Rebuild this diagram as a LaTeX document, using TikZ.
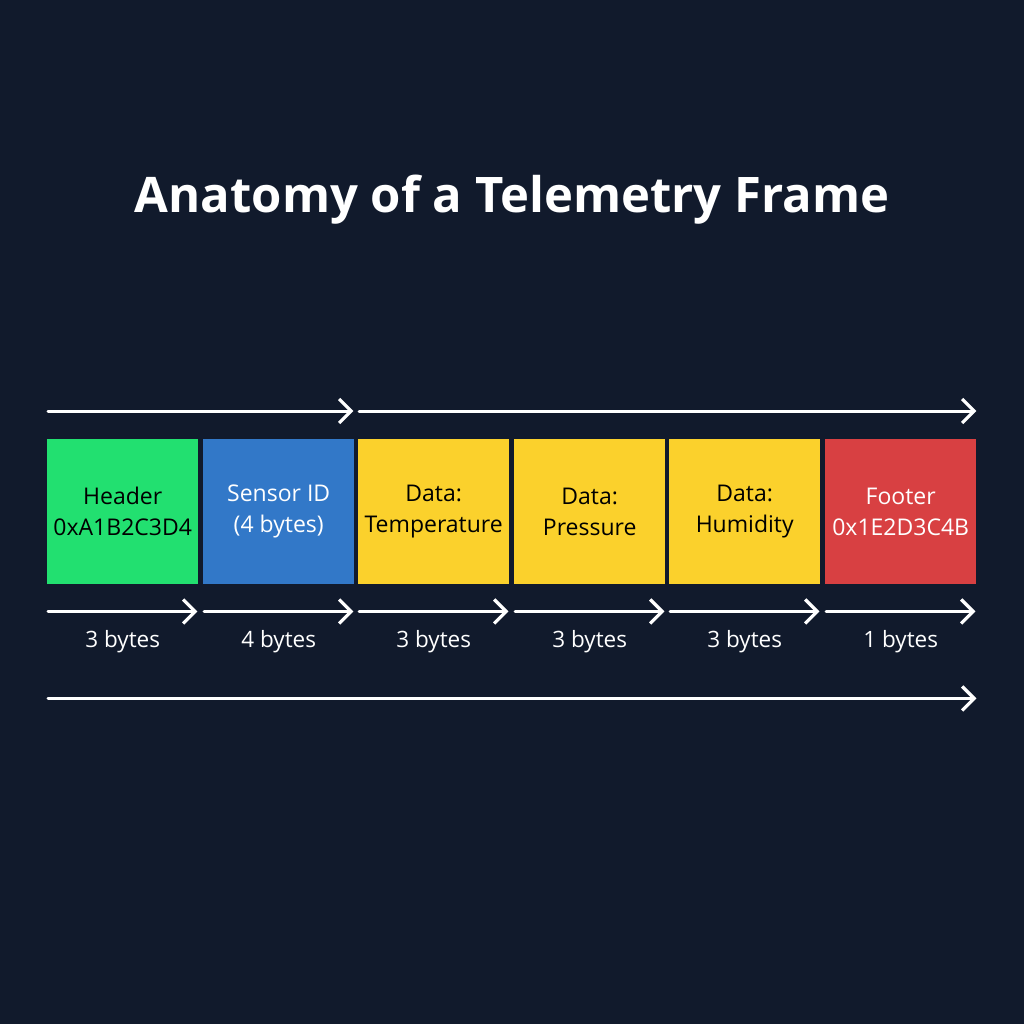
\documentclass[tikz,border=0pt]{standalone}
\usepackage{fontspec}
\setmainfont{Open Sans}
\usetikzlibrary{arrows.meta}
\definecolor{bg}{HTML}{111A2C}
\definecolor{cgreen}{HTML}{22E070}
\definecolor{cblue}{HTML}{3278C8}
\definecolor{cyellow}{HTML}{FBD12C}
\definecolor{cred}{HTML}{D84042}
\tikzset{
  fieldbox/.style={minimum width=151pt, minimum height=145pt, inner sep=0pt, anchor=north west, align=center, font=\fontsize{23}{31}\selectfont},
  arr/.style={draw=white, line width=3pt, line cap=round, -{Straight Barb[length=12pt,width=24pt,line width=3.2pt]}},
  lbl/.style={text=white, font=\fontsize{22.5}{25}\selectfont},
}
\begin{document}
\begin{tikzpicture}[x=1pt,y=-1pt]
\fill[bg] (0,0) rectangle (1024,1024);
\useasboundingbox (0,0) rectangle (1024,1024);
\node[text=white, font=\fontsize{49}{56}\selectfont\bfseries] (title) at (512,200) {Anatomy of a Telemetry Frame};

\node[fieldbox, fill=cgreen, text=black] (b1) at (47,439) {Header\\0xA1B2C3D4};
\node[fieldbox, fill=cblue, text=white] (b2) at (203,439) {Sensor ID\\(4 bytes)};
\node[fieldbox, fill=cyellow, text=black] (b3) at (358,439) {Data:\\Temperature};
\node[fieldbox, fill=cyellow, text=black] (b4) at (514,439) {Data:\\Pressure};
\node[fieldbox, fill=cyellow, text=black] (b5) at (669,439) {Data:\\Humidity};
\node[fieldbox, fill=cred, text=white] (b6) at (825,439) {Footer\\0x1E2D3C4B};

% top arrows
\coordinate (t1s) at ([yshift=28pt]b1.north west);
\coordinate (t1e) at ([yshift=28pt]b2.north east);
\coordinate (t2s) at ([yshift=28pt]b3.north west);
\coordinate (t2e) at ([yshift=28pt]b6.north east);
\draw[arr] ([xshift=1pt]t1s) -- ([xshift=-1pt]t1e);
\draw[arr] ([xshift=1pt]t2s) -- (t2e);

% per-field arrows and labels
\foreach \i/\n in {1/3,2/4,3/3,4/3,5/3,6/1}{
  \coordinate (s\i) at ([yshift=-27pt]b\i.south west);
  \coordinate (e\i) at ([yshift=-27pt]b\i.south east);
  \draw[arr] ([xshift=1pt]s\i) -- ([xshift=-1pt]e\i);
  \node[lbl] (l\i) at ([yshift=-57pt]b\i.south) {\n\ bytes};
}

% total arrow
\coordinate (ts) at ([yshift=-114pt]b1.south west);
\coordinate (te) at ([yshift=-114pt]b6.south east);
\draw[arr] ([xshift=1pt]ts) -- (te);
\end{tikzpicture}
\end{document}
